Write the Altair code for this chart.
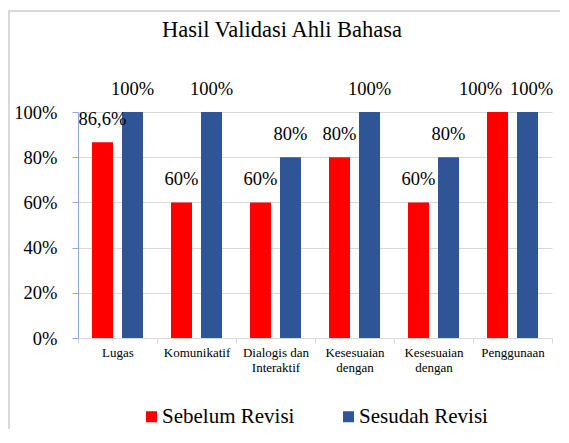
import json
import altair as alt
import pandas as pd

# ---- data ----
categories = ["Lugas", "Komunikatif", "Dialogis dan Interaktif",
              "Kesesuaian dengan", "Kesesuaian dengan", "Penggunaan"]
label_lines = [["Lugas"], ["Komunikatif"], ["Dialogis dan", "Interaktif"],
               ["Kesesuaian", "dengan"], ["Kesesuaian", "dengan"], ["Penggunaan"]]
series = ["Sebelum Revisi", "Sesudah Revisi"]
sebelum = [86.6, 60, 60, 80, 60, 100]
sesudah = [100, 100, 80, 100, 80, 100]
y_ticks = [0, 20, 40, 60, 80, 100]
colors = ["#FF0000", "#2F5597"]

rows = []
for i, cat in enumerate(categories):
    for s, vals in zip(series, [sebelum, sesudah]):
        v = vals[i]
        rows.append({"idx": i, "cat": cat, "series": s, "value": v,
                     "label": f"{v:g}%".replace(".", ",")})
df = pd.DataFrame(rows)

FONT = "'Liberation Serif', 'Times New Roman', serif"
label_expr = json.dumps(label_lines) + "[datum.value]"

x_enc = alt.X("idx:N", sort=list(range(len(categories))),
              scale=alt.Scale(paddingInner=0, paddingOuter=0),
              axis=alt.Axis(title=None, labelExpr=label_expr, labelAngle=0,
                            tickBand="extent", labelFont=FONT, labelFontSize=13,
                            labelColor="#000000", labelLineHeight=15,
                            labelPadding=3, domainColor="#D9D9D9",
                            tickColor="#D9D9D9", tickSize=5, grid=False))
xo_enc = alt.XOffset("series:N", sort=series,
                     scale=alt.Scale(paddingInner=0.3, paddingOuter=0.467))
y_enc = alt.Y("value:Q", scale=alt.Scale(domain=[0, 100]),
              axis=alt.Axis(title=None, values=y_ticks,
                            labelExpr="datum.value + '%'", labelFont=FONT,
                            labelFontSize=18.5, labelColor="#000000",
                            labelPadding=15, tickSize=6, domainColor="#8FAADC",
                            tickColor="#8FAADC", grid=True, gridColor="#D9D9D9"))

base = alt.Chart(df)

bars = base.mark_bar().encode(
    x=x_enc, xOffset=xo_enc, y=y_enc,
    color=alt.Color("series:N", sort=series,
                    scale=alt.Scale(domain=series, range=colors),
                    legend=alt.Legend(title=None, orient="none", direction="horizontal",
                                      legendX=63, legendY=294,
                                      symbolType="square", symbolSize=121,
                                      symbolStrokeWidth=0, labelFont=FONT,
                                      labelFontSize=21, labelColor="#000000",
                                      labelOffset=0, columnPadding=43)),
)

# data labels; when both bars of a category reach the same height the two
# labels are pushed apart (as the original chart does) so they do not collide
lab_base = base.transform_joinaggregate(
    vmin="min(value)", vmax="max(value)", groupby=["idx"]
).transform_calculate(
    tie="datum.vmin == datum.vmax"
)
text_kw = dict(dy=-23, baseline="middle", font=FONT, fontSize=18.5, color="#000000")
lab_normal = lab_base.transform_filter("!datum.tie").mark_text(**text_kw).encode(
    x=x_enc, xOffset=xo_enc, y=y_enc, text="label:N")
lab_left = lab_base.transform_filter(
    f"datum.tie && datum.series == '{series[0]}'").mark_text(dx=-17, **text_kw).encode(
    x=x_enc, xOffset=xo_enc, y=y_enc, text="label:N")
lab_right = lab_base.transform_filter(
    f"datum.tie && datum.series == '{series[1]}'").mark_text(dx=4, **text_kw).encode(
    x=x_enc, xOffset=xo_enc, y=y_enc, text="label:N")

# outer chart-area frame: only its top and left edges fall inside the picture
frame_kw = dict(stroke="#D9D9D9", strokeWidth=2)
frame_top = alt.Chart(alt.Data(values=[{}])).mark_rule(**frame_kw).encode(
    x=alt.value(-70), x2=alt.value(600), y=alt.value(-101))
frame_left = alt.Chart(alt.Data(values=[{}])).mark_rule(**frame_kw).encode(
    x=alt.value(-69), y=alt.value(-102), y2=alt.value(400))

chart = alt.layer(frame_top, frame_left, bars, lab_normal, lab_left, lab_right).properties(
    width=474, height=226,
    title=alt.TitleParams("Hasil Validasi Ahli Bahasa", font=FONT, fontSize=22.5,
                          fontWeight="normal", color="#000000", anchor="middle",
                          frame="group", dx=-33, offset=-32),
    autosize=alt.AutoSizeParams(type="none"),
    padding={"left": 70, "top": 104, "right": 8, "bottom": 91},
    background="white",
).configure_view(stroke=None)

chart.save("out.html", embed_options={"renderer": "svg", "actions": False})
